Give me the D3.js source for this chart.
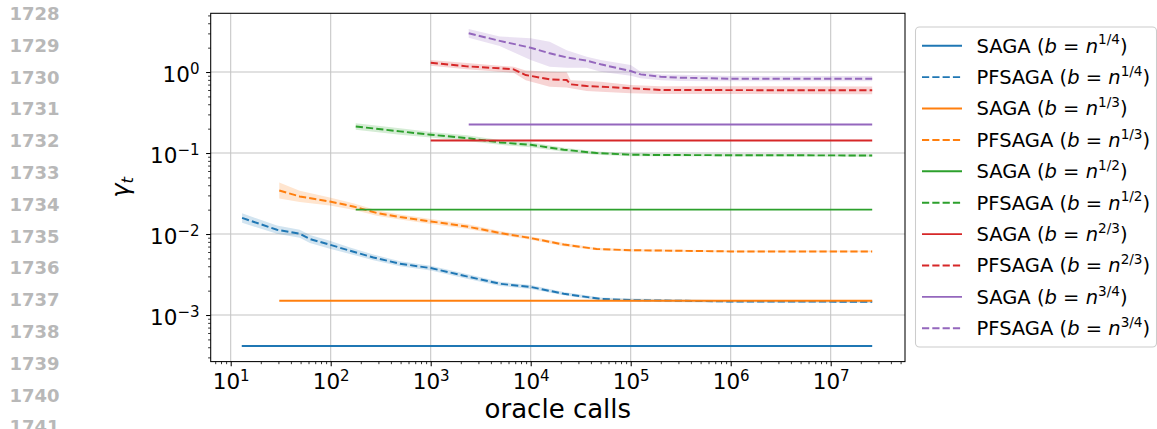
<!DOCTYPE html>
<html>
<head>
<meta charset="utf-8">
<script src="https://cdn.jsdelivr.net/npm/d3@7"></script>
<style>
  html, body { margin: 0; padding: 0; background: #ffffff; }
  svg { display: block; }
  text { font-family: "DejaVu Sans", sans-serif; }
</style>
</head>
<body>
<svg id="chart" width="1157" height="429"></svg>
<script>
// ---- data -------------------------------------------------------------
const lineNumbers = [1728, 1729, 1730, 1731, 1732, 1733, 1734, 1735, 1736, 1737, 1738, 1739, 1740, 1741];

const batchExponents = ["1/4", "1/3", "1/2", "2/3", "3/4"];
const seriesColors = ["#1f77b4", "#ff7f0e", "#2ca02c", "#d62728", "#9467bd"];

// SAGA: constant step size over the whole run
const sagaStart = [12.9, 30.6, 178, 1000, 2400];
const sagaEnd = [2.6e7, 2.6e7, 2.6e7, 2.6e7, 2.6e7];
const sagaGamma = [4.14e-4, 1.5e-3, 0.0200, 0.143, 0.225];

// PFSAGA, b = n^(1/4)
const pfCalls14 = [13, 29, 49, 62, 98, 156, 267, 493, 1000, 2290, 4930, 10000, 21400, 50000, 100000, 1000000, 26000000];
const pfMean14  = [0.0158, 0.0113, 0.0101, 0.00867, 0.00738, 0.00622, 0.00514, 0.00430, 0.00380, 0.00300, 0.00243, 0.00222, 0.00183, 0.00158, 0.00153, 0.00147, 0.00146];
const pfLow14   = [0.01376, 0.01007, 0.0090, 0.00773, 0.00658, 0.00568, 0.00474, 0.00401, 0.00354, 0.00280, 0.00229, 0.00210, 0.00175, 0.00151, 0.00146, 0.00142, 0.00141];
const pfHigh14  = [0.0181, 0.0127, 0.0113, 0.00973, 0.00828, 0.00682, 0.00557, 0.00461, 0.00407, 0.00322, 0.00257, 0.00235, 0.00192, 0.00165, 0.00160, 0.00152, 0.00151];

// PFSAGA, b = n^(1/3)
const pfCalls13 = [30.6, 49, 98, 168, 289, 493, 1000, 2290, 4930, 10000, 21400, 45700, 100000, 1000000, 26000000];
const pfMean13  = [0.0345, 0.0291, 0.0252, 0.0219, 0.0182, 0.0162, 0.0143, 0.0124, 0.0103, 0.00891, 0.00741, 0.00653, 0.00631, 0.00610, 0.00610];
const pfLow13   = [0.0274, 0.0248, 0.0225, 0.0200, 0.0168, 0.0151, 0.0133, 0.0116, 0.00973, 0.00851, 0.00708, 0.00631, 0.00610, 0.00596, 0.00596];
const pfHigh13  = [0.0434, 0.0342, 0.0283, 0.0240, 0.0197, 0.0174, 0.0153, 0.0133, 0.0109, 0.00933, 0.00776, 0.00676, 0.00653, 0.00624, 0.00624];

// PFSAGA, b = n^(1/2)
const pfCalls12 = [178, 493, 1000, 2290, 4930, 10000, 21400, 45700, 100000, 215000, 26000000];
const pfMean12  = [0.2128, 0.1849, 0.1683, 0.1531, 0.1352, 0.1265, 0.1099, 0.1000, 0.0953, 0.0944, 0.0933];
const pfLow12   = [0.1942, 0.1687, 0.1553, 0.1412, 0.1261, 0.1180, 0.1038, 0.0955, 0.0910, 0.0912, 0.0901];
const pfHigh12  = [0.2332, 0.2027, 0.1824, 0.1660, 0.1449, 0.1356, 0.1164, 0.1047, 0.0998, 0.0977, 0.0966];

// PFSAGA, b = n^(2/3)
const pfCalls23 = [1000, 2291, 4898, 6761, 8913, 15488, 22909, 25119, 36308, 50119, 100000, 199526, 26000000];
const pfMean23  = [1.303, 1.175, 1.112, 1.079, 0.918, 0.813, 0.796, 0.705, 0.671, 0.659, 0.630, 0.600, 0.594];
const pfLow23   = [1.197, 1.084, 1.009, 0.977, 0.794, 0.659, 0.646, 0.631, 0.582, 0.571, 0.546, 0.537, 0.531];
const pfHigh23  = [1.406, 1.288, 1.197, 1.161, 1.047, 1.009, 0.991, 0.794, 0.776, 0.759, 0.692, 0.668, 0.664];

// PFSAGA, b = n^(3/4)
const pfCalls34 = [2399, 4898, 10000, 15488, 22909, 36308, 50119, 100000, 125893, 199526, 316228, 1000000, 26000000];
const pfMean34  = [3.006, 2.427, 1.995, 1.702, 1.517, 1.380, 1.245, 1.028, 0.935, 0.875, 0.851, 0.826, 0.826];
const pfLow34   = [2.649, 2.089, 1.406, 1.161, 1.130, 1.130, 1.009, 0.902, 0.836, 0.794, 0.776, 0.767, 0.767];
const pfHigh34  = [3.388, 2.754, 2.606, 2.366, 1.862, 1.549, 1.406, 1.219, 1.009, 0.933, 0.923, 0.891, 0.891];

const xTickExponents = [1, 2, 3, 4, 5, 6, 7];
const yTickExponents = [-3, -2, -1, 0];

const xLabel = "oracle calls";

// ---- layout -----------------------------------------------------------
const svg = d3.select("#chart");
const plot = { left: 210.7, right: 905, top: 13.3, bottom: 361.6 };

const x = d3.scaleLog().domain([Math.pow(10, 0.8), Math.pow(10, 7.743)]).range([plot.left, plot.right]);
const y = d3.scaleLog().domain([Math.pow(10, -3.575), Math.pow(10, 0.725)]).range([plot.bottom, plot.top]);

svg.append("rect").attr("width", 1157).attr("height", 429).attr("fill", "#ffffff");

// page line numbers in the margin
svg.append("g").selectAll("text").data(lineNumbers).join("text")
  .attr("x", 9.5)
  .attr("y", (d, i) => 20 + 31.8 * i)
  .attr("font-size", 18)
  .attr("font-weight", "bold")
  .attr("fill", "#b8b8b8")
  .text(d => d);

// minor tick values: 2..9 times every decade inside the domain
function minorTicks(scale) {
  const [a, b] = scale.domain();
  const out = [];
  for (let k = Math.floor(Math.log10(a)); k <= Math.ceil(Math.log10(b)); k++) {
    for (let m = 2; m <= 9; m++) {
      const v = m * Math.pow(10, k);
      if (v >= a && v <= b) out.push(v);
    }
  }
  return out;
}

const xMajor = xTickExponents.map(e => Math.pow(10, e));
const yMajor = yTickExponents.map(e => Math.pow(10, e));

// grid
const grid = svg.append("g");
grid.selectAll("line.gx").data(xMajor).join("line")
  .attr("x1", d => x(d)).attr("x2", d => x(d))
  .attr("y1", plot.top).attr("y2", plot.bottom)
  .attr("stroke", "#c4c4c4").attr("stroke-width", 1.05);
grid.selectAll("line.gy").data(yMajor).join("line")
  .attr("x1", plot.left).attr("x2", plot.right)
  .attr("y1", d => y(d)).attr("y2", d => y(d))
  .attr("stroke", "#c4c4c4").attr("stroke-width", 1.05);

// clipped data layer
svg.append("clipPath").attr("id", "plotClip")
  .append("rect")
  .attr("x", plot.left).attr("y", plot.top)
  .attr("width", plot.right - plot.left).attr("height", plot.bottom - plot.top);

const layer = svg.append("g").attr("clip-path", "url(#plotClip)");

const pfSeries = [
  { calls: pfCalls14, mean: pfMean14, low: pfLow14, high: pfHigh14 },
  { calls: pfCalls13, mean: pfMean13, low: pfLow13, high: pfHigh13 },
  { calls: pfCalls12, mean: pfMean12, low: pfLow12, high: pfHigh12 },
  { calls: pfCalls23, mean: pfMean23, low: pfLow23, high: pfHigh23 },
  { calls: pfCalls34, mean: pfMean34, low: pfLow34, high: pfHigh34 }
];

const area = d3.area()
  .x(d => x(d.c)).y0(d => y(d.lo)).y1(d => y(d.hi));
const line = d3.line()
  .x(d => x(d.c)).y(d => y(d.m));

const lineWidth = 1.95;
const dashPattern = "7.2,3.1";

batchExponents.forEach((b, i) => {
  const col = seriesColors[i];
  // SAGA: flat step size
  layer.append("path")
    .datum([{ c: sagaStart[i], m: sagaGamma[i] }, { c: sagaEnd[i], m: sagaGamma[i] }])
    .attr("d", line)
    .attr("fill", "none").attr("stroke", col).attr("stroke-width", lineWidth);

  // PFSAGA: band plus dashed mean
  const s = pfSeries[i];
  const pts = s.calls.map((c, j) => ({ c, m: s.mean[j], lo: s.low[j], hi: s.high[j] }));
  layer.append("path").datum(pts)
    .attr("d", area)
    .attr("fill", col).attr("fill-opacity", 0.2).attr("stroke", "none");
  layer.append("path").datum(pts)
    .attr("d", line)
    .attr("fill", "none").attr("stroke", col).attr("stroke-width", lineWidth)
    .attr("stroke-dasharray", dashPattern);
});

// axes
const tickFont = 21.5;
const tickSupFont = 15;
const tickSupRise = 8.6;

function powerLabel(sel, expOf) {
  sel.each(function (d) {
    const t = d3.select(this);
    const e = expOf(d);
    t.text(null);
    t.append("tspan").text("10");
    t.append("tspan").attr("dy", -tickSupRise).attr("font-size", tickSupFont)
      .text(e < 0 ? "\u2212" + (-e) : String(e));
  });
}

const xAxis = svg.append("g").attr("transform", `translate(0,${plot.bottom})`)
  .call(d3.axisBottom(x).tickValues(xMajor).tickSize(4.6).tickPadding(0));
xAxis.select(".domain").remove();
xAxis.selectAll(".tick line").attr("stroke", "#000").attr("stroke-width", 1.05);
xAxis.selectAll(".tick text")
  .attr("y", 27.7).attr("dy", 0)
  .attr("font-size", tickFont).attr("font-family", "DejaVu Sans").attr("fill", "#000")
  .call(powerLabel, d => Math.round(Math.log10(d)));

const xMinorAxis = svg.append("g").attr("transform", `translate(0,${plot.bottom})`)
  .call(d3.axisBottom(x).tickValues(minorTicks(x)).tickSize(2.6).tickFormat(""));
xMinorAxis.select(".domain").remove();
xMinorAxis.selectAll(".tick line").attr("stroke", "#000").attr("stroke-width", 0.8);

const yAxis = svg.append("g").attr("transform", `translate(${plot.left},0)`)
  .call(d3.axisLeft(y).tickValues(yMajor).tickSize(4.6).tickPadding(0));
yAxis.select(".domain").remove();
yAxis.selectAll(".tick line").attr("stroke", "#000").attr("stroke-width", 1.05);
yAxis.selectAll(".tick text")
  .attr("x", -11.2).attr("y", 9.7).attr("dy", 0)
  .attr("text-anchor", "end")
  .attr("font-size", tickFont).attr("font-family", "DejaVu Sans").attr("fill", "#000")
  .call(powerLabel, d => Math.round(Math.log10(d)));

const yMinorAxis = svg.append("g").attr("transform", `translate(${plot.left},0)`)
  .call(d3.axisLeft(y).tickValues(minorTicks(y)).tickSize(2.6).tickFormat(""));
yMinorAxis.select(".domain").remove();
yMinorAxis.selectAll(".tick line").attr("stroke", "#000").attr("stroke-width", 0.8);

// spines
svg.append("rect")
  .attr("x", plot.left).attr("y", plot.top)
  .attr("width", plot.right - plot.left).attr("height", plot.bottom - plot.top)
  .attr("fill", "none").attr("stroke", "#000").attr("stroke-width", 1.05);

// axis labels
svg.append("text")
  .attr("x", (plot.left + plot.right) / 2).attr("y", 418)
  .attr("text-anchor", "middle").attr("font-size", 26).attr("fill", "#000")
  .text(xLabel);

const yl = svg.append("text")
  .attr("transform", `translate(129,${(plot.top + plot.bottom) / 2}) rotate(-90)`)
  .attr("text-anchor", "middle").attr("font-size", 24).attr("fill", "#000");
yl.append("tspan").attr("font-style", "italic").text("\u03b3");
yl.append("tspan").attr("font-style", "italic").attr("font-size", 16.5).attr("dy", 4).text("t");

// legend
const legendFont = 19.5;
const legendSupFont = 13.6;

const legend = svg.append("g");
legend.append("rect")
  .attr("x", 915.5).attr("y", 27).attr("width", 241).attr("height", 320)
  .attr("rx", 4).attr("ry", 4)
  .attr("fill", "#ffffff").attr("fill-opacity", 0.8)
  .attr("stroke", "#cccccc").attr("stroke-width", 1.05);

const legendRows = [];
batchExponents.forEach((b, i) => {
  legendRows.push({ name: "SAGA", color: seriesColors[i], dashed: false, exp: b });
  legendRows.push({ name: "PFSAGA", color: seriesColors[i], dashed: true, exp: b });
});

const rows = legend.selectAll("g.row").data(legendRows).join("g")
  .attr("transform", (d, k) => `translate(0,${45.7 + 31.4 * k})`);
rows.append("line")
  .attr("x1", 922).attr("x2", 962).attr("y1", 0).attr("y2", 0)
  .attr("stroke", d => d.color).attr("stroke-width", lineWidth)
  .attr("stroke-dasharray", d => d.dashed ? dashPattern : null);
rows.each(function (d) {
  const t = d3.select(this).append("text")
    .attr("x", 976.5).attr("y", 6.8)
    .attr("font-size", legendFont).attr("fill", "#000");
  t.append("tspan").text(d.name + " (");
  t.append("tspan").attr("font-style", "italic").text("b");
  t.append("tspan").text(" = ");
  t.append("tspan").attr("font-style", "italic").text("n");
  t.append("tspan").attr("font-size", legendSupFont).attr("dy", -8.2).text(d.exp);
  t.append("tspan").attr("dy", 8.2).text(")");
});
</script>
</body>
</html>
